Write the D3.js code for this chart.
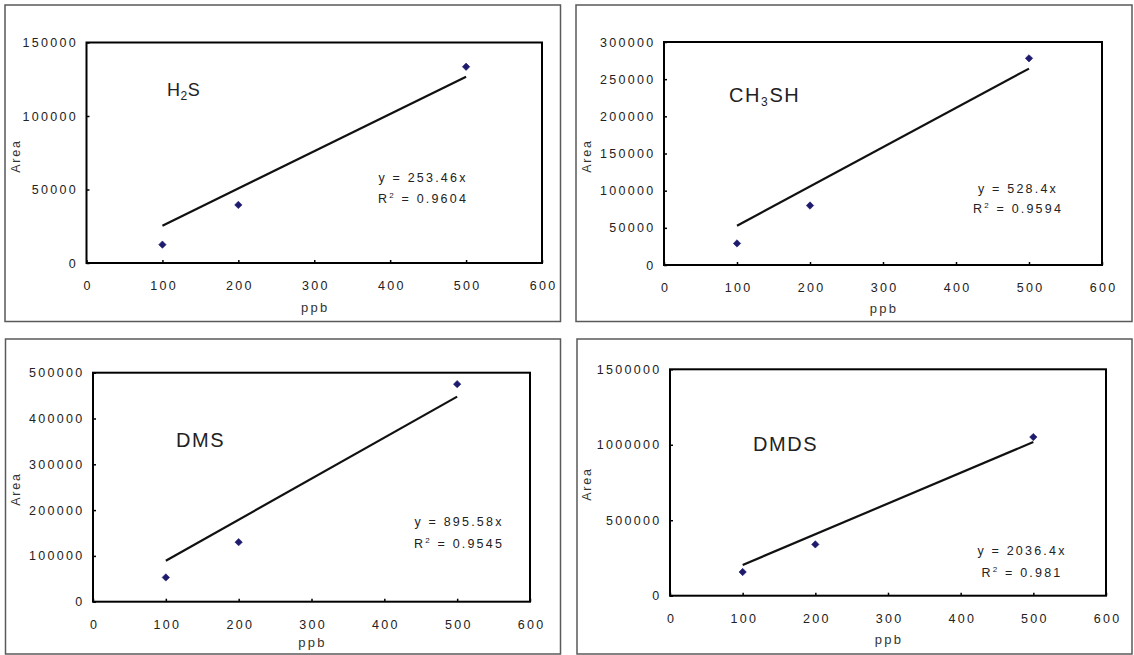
<!DOCTYPE html>
<html>
<head>
<meta charset="utf-8">
<script src="https://cdn.jsdelivr.net/npm/d3@7"></script>
<style>
  body { margin: 0; background: #fff; }
  svg text { font-family: "Liberation Sans", Arial, sans-serif; }
</style>
</head>
<body>
<svg id="chart" width="1134" height="655"></svg>
<script>
// --- data ---
const ppb = [100, 200, 500];
const h2sArea = [12500, 39500, 133500];
const ch3shArea = [29000, 80000, 278000];
const dmsArea = [53000, 130000, 475000];
const dmdsArea = [157000, 340000, 1051000];

const slopes = [253.46, 528.4, 895.58, 2036.4];
const rSquared = ["0.9604", "0.9594", "0.9545", "0.981"];

const xTicks = [0, 100, 200, 300, 400, 500, 600];
const yTicksH2S = [0, 50000, 100000, 150000];
const yTicksCH3SH = [0, 50000, 100000, 150000, 200000, 250000, 300000];
const yTicksDMS = [0, 100000, 200000, 300000, 400000, 500000];
const yTicksDMDS = [0, 500000, 1000000, 1500000];

// name pieces: [normal, subscript, normal]
const names = [["H", "2", "S"], ["CH", "3", "SH"], ["DMS"], ["DMDS"]];

const series = [h2sArea, ch3shArea, dmsArea, dmdsArea];
const yTickSets = [yTicksH2S, yTicksCH3SH, yTicksDMS, yTicksDMDS];

// --- layout (pixels) ---
const layout = [
  { frame: [5, 5, 560.5, 321.5], plot: [86.5, 42.5, 542, 263],
    name: [167, 95.5], eq: [423, 182, 203], area: [16, 156], ppb: 312 },
  { frame: [576, 5, 1132, 321.5], plot: [664, 42, 1102, 265],
    name: [729, 101.5], eq: [1018, 193, 213], area: [587, 156], ppb: 312.5 },
  { frame: [5.5, 339, 560.5, 654], plot: [93, 372.7, 530, 601.7],
    name: [176, 446.5], eq: [459, 526, 547.5], area: [16, 489], ppb: 646.5 },
  { frame: [577, 339, 1132, 654], plot: [670, 369.3, 1106, 595.7],
    name: [753, 451], eq: [1022, 555, 576.5], area: [587, 484], ppb: 644 }
];

const svg = d3.select("#chart");
const markColor = "#1e1b6e";
const textColor = "#222";
const diamond = d3.symbol().type(d3.symbolSquare).size(27);

series.forEach((vals, i) => {
  const L = layout[i];
  const [fx0, fy0, fx1, fy1] = L.frame;
  const [px0, py0, px1, py1] = L.plot;
  const yTicks = yTickSets[i];

  // outer frame
  svg.append("rect")
    .attr("x", fx0).attr("y", fy0)
    .attr("width", fx1 - fx0).attr("height", fy1 - fy0)
    .attr("fill", "none").attr("stroke", "#5a5a5a").attr("stroke-width", 1.5);

  const x = d3.scaleLinear().domain([0, 600]).range([px0, px1]);
  const y = d3.scaleLinear().domain([0, d3.max(yTicks)]).range([py1, py0]);

  // axes (ticks point inward)
  const gx = svg.append("g").attr("transform", `translate(0,${py1})`)
    .call(d3.axisBottom(x).tickValues(xTicks).tickSize(-3).tickPadding(18).tickFormat(d3.format("d")));
  const gy = svg.append("g").attr("transform", `translate(${px0},0)`)
    .call(d3.axisLeft(y).tickValues(yTicks).tickSize(-3).tickPadding(8.5).tickFormat(d3.format("d")));
  [gx, gy].forEach(g => {
    g.select(".domain").remove();
    g.selectAll("line").attr("stroke", "#000").attr("stroke-width", 1.5);
    g.selectAll("text")
      .attr("fill", textColor).attr("font-size", 12.5)
      .style("letter-spacing", "2.3px");
  });
  gx.selectAll("text").attr("dx", "1.15px");

  // plot area border
  svg.append("rect")
    .attr("x", px0).attr("y", py0)
    .attr("width", px1 - px0).attr("height", py1 - py0)
    .attr("fill", "none").attr("stroke", "#000").attr("stroke-width", 2);

  // trend line through origin, drawn from 100 to 500 ppb
  const trend = [d3.min(ppb), d3.max(ppb)].map(v => [v, slopes[i] * v]);
  svg.append("path")
    .attr("d", d3.line().x(d => x(d[0])).y(d => y(d[1]))(trend))
    .attr("fill", "none").attr("stroke", "#111").attr("stroke-width", 2.2);

  // data points
  svg.append("g").selectAll("path")
    .data(ppb.map((p, j) => [p, vals[j]]))
    .join("path")
    .attr("d", diamond)
    .attr("transform", d => `translate(${x(d[0])},${y(d[1])}) rotate(45)`)
    .attr("fill", markColor).attr("stroke", markColor).attr("stroke-width", 0.6);

  // compound label
  const nm = svg.append("text")
    .attr("x", L.name[0]).attr("y", L.name[1])
    .attr("fill", textColor)
    .attr("font-size", i === 0 ? 18 : 20)
    .style("letter-spacing", i === 0 ? "0.5px" : "1.6px");
  const parts = names[i];
  nm.append("tspan").text(parts[0]);
  if (parts.length > 1) {
    nm.append("tspan").attr("font-size", 12).attr("dy", 4).text(parts[1]);
    nm.append("tspan").attr("dy", -4).text(parts[2]);
  }

  // regression equation
  svg.append("text")
    .attr("x", L.eq[0]).attr("y", L.eq[1])
    .attr("text-anchor", "middle").attr("fill", textColor)
    .attr("font-size", 12.5).style("letter-spacing", "2.2px")
    .text(`y = ${slopes[i]}x`);
  const r2 = svg.append("text")
    .attr("x", L.eq[0]).attr("y", L.eq[2])
    .attr("text-anchor", "middle").attr("fill", textColor)
    .attr("font-size", 12.5).style("letter-spacing", "2.2px");
  r2.append("tspan").text("R");
  r2.append("tspan").attr("font-size", 8).attr("dy", -5).text("2");
  r2.append("tspan").attr("dy", 5).text(` = ${rSquared[i]}`);

  // axis titles
  svg.append("text")
    .attr("transform", `translate(${L.area[0]},${L.area[1]}) rotate(-90)`)
    .attr("text-anchor", "middle").attr("dy", "0.35em")
    .attr("fill", "#333").attr("font-size", 12.5)
    .style("letter-spacing", "1.8px")
    .text("Area");
  svg.append("text")
    .attr("x", (px0 + px1) / 2 + 1).attr("y", L.ppb)
    .attr("text-anchor", "middle")
    .attr("fill", "#333").attr("font-size", 13)
    .style("letter-spacing", "2.3px")
    .text("ppb");
});
</script>
</body>
</html>
